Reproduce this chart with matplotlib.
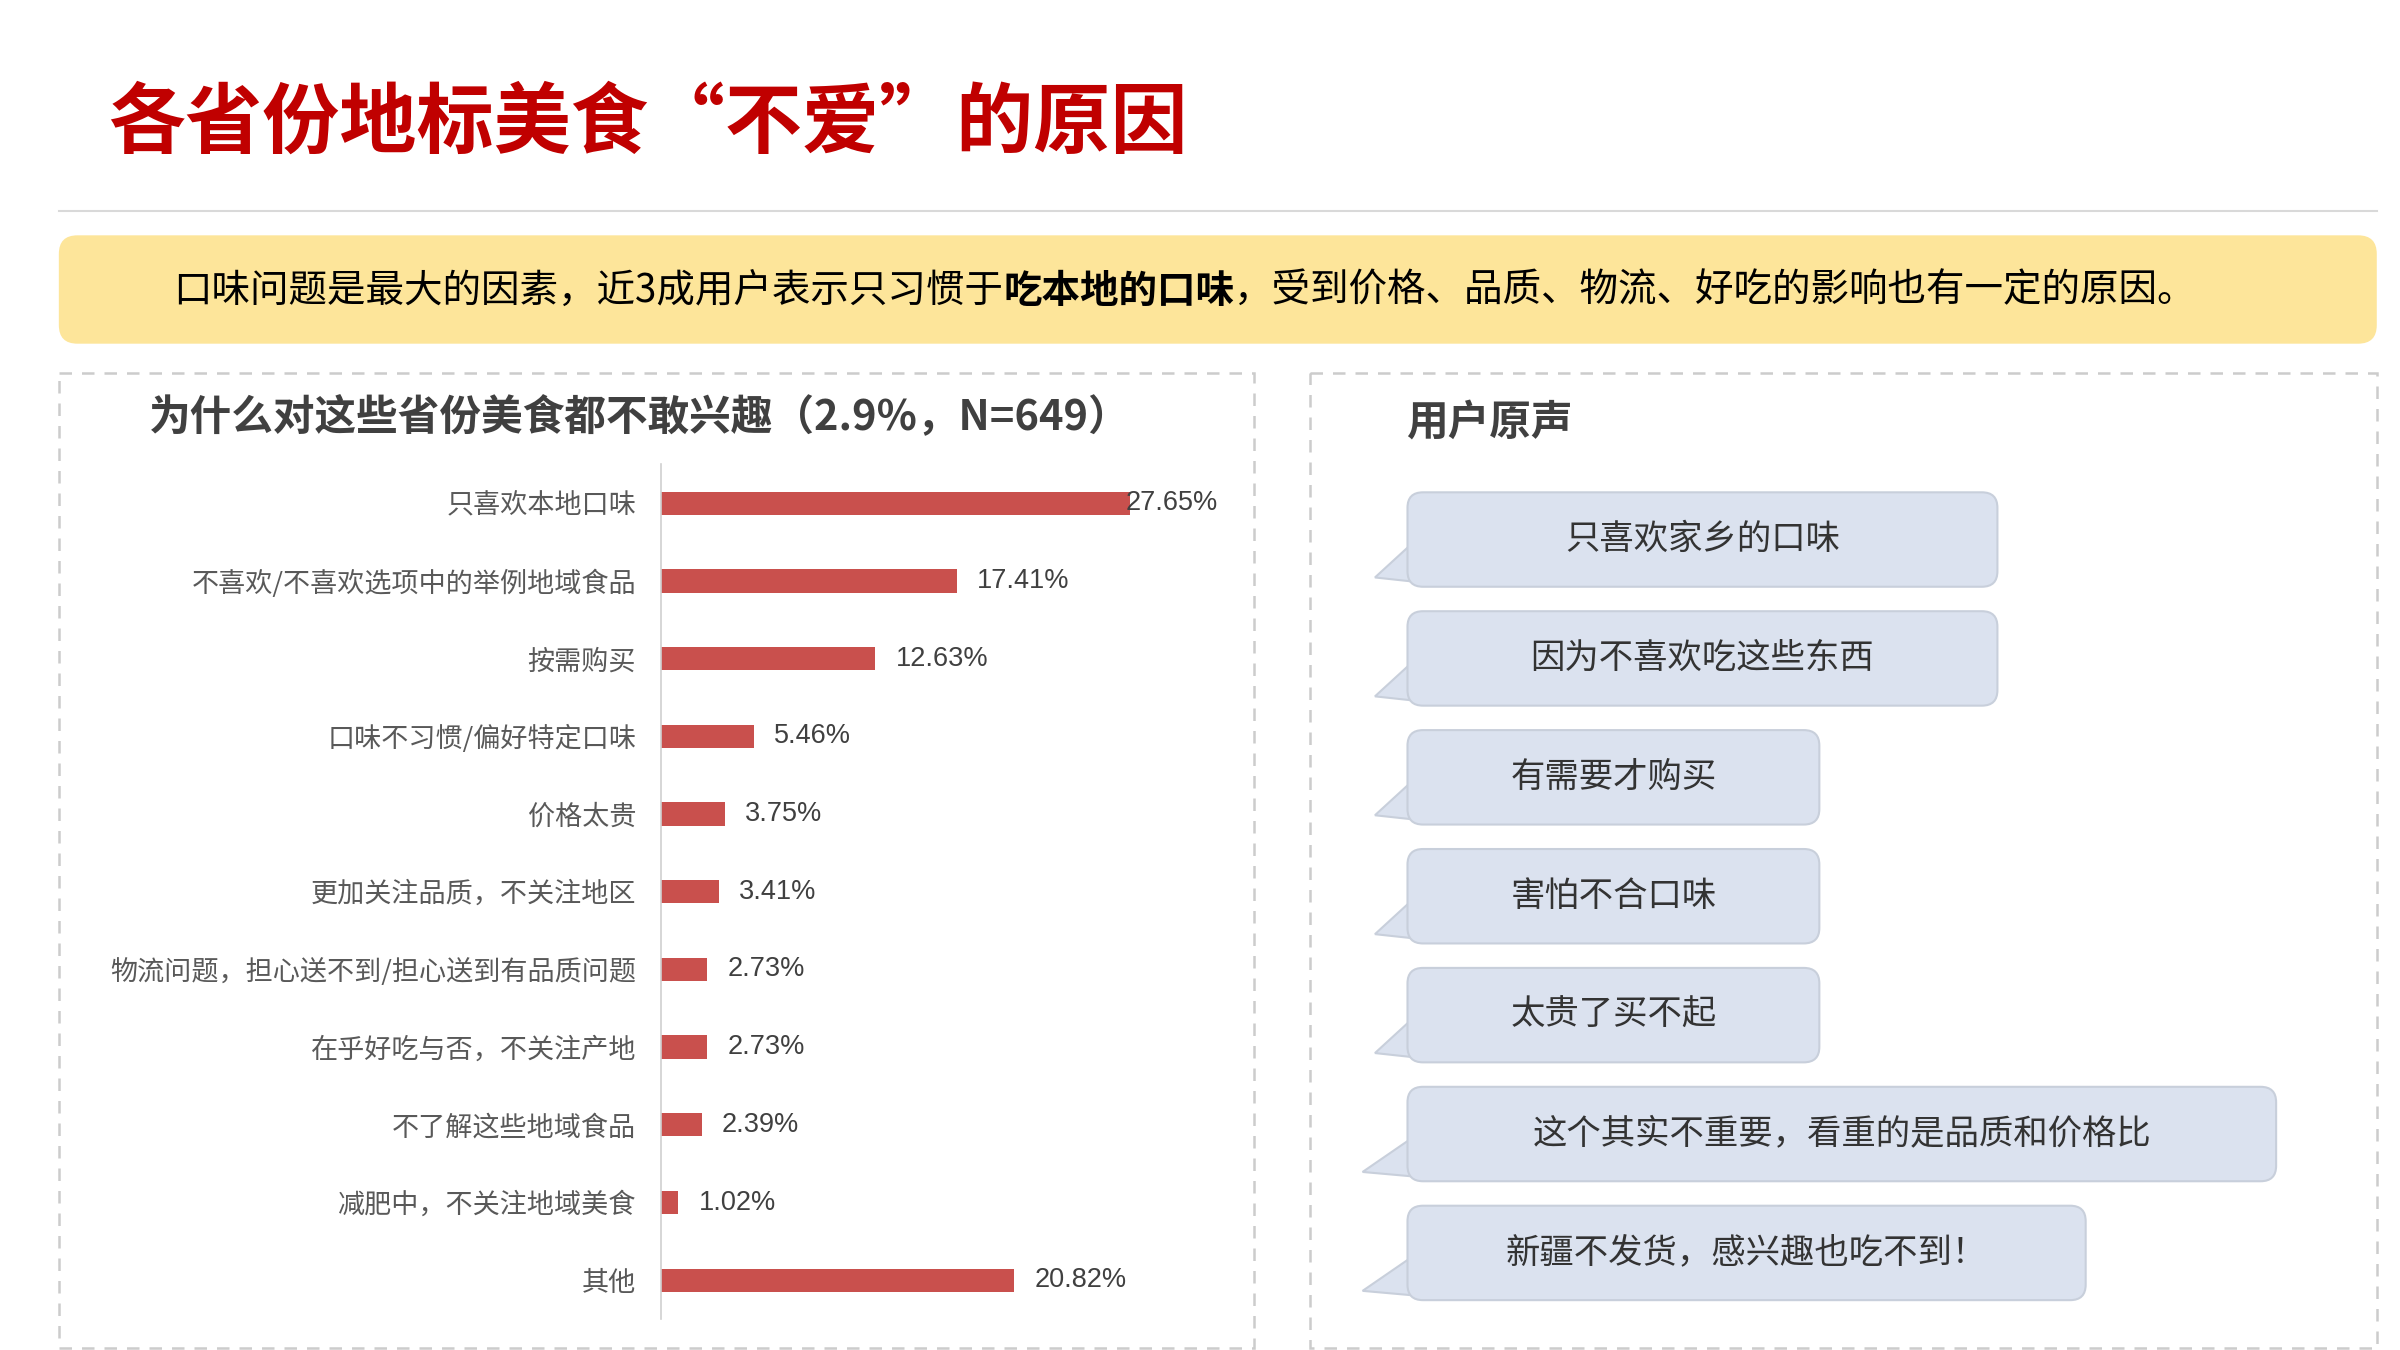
import matplotlib
matplotlib.use("Agg")
import matplotlib.pyplot as plt
from matplotlib.patches import FancyBboxPatch, Polygon, Rectangle

plt.rcParams['font.family'] = ['Noto Sans CJK SC', 'DejaVu Sans']

categories = ['只喜欢本地口味', '不喜欢/不喜欢选项中的举例地域食品', '按需购买', '口味不习惯/偏好特定口味',
              '价格太贵', '更加关注品质，不关注地区', '物流问题，担心送不到/担心送到有品质问题',
              '在乎好吃与否，不关注产地', '不了解这些地域食品', '减肥中，不关注地域美食', '其他']
values = [27.65, 17.41, 12.63, 5.46, 3.75, 3.41, 2.73, 2.73, 2.39, 1.02, 20.82]
quotes = ['只喜欢家乡的口味', '因为不喜欢吃这些东西', '有需要才购买', '害怕不合口味',
          '太贵了买不起', '这个其实不重要，看重的是品质和价格比', '新疆不发货，感兴趣也吃不到！']
quote_w = [381, 381, 266, 266, 266, 561, 438]

W, H = 1550, 872
fig = plt.figure(figsize=(16, 9), dpi=150)
bg = fig.add_axes([0, 0, 1, 1])
bg.set_xlim(0, W)
bg.set_ylim(H, 0)
bg.axis('off')

bg.text(70, 80, '各省份地标美食“不爱”的原因', color='#c00000', fontsize=37, fontweight='bold', va='center')
bg.plot([38, 1535], [136, 136], color='#d9d9d9', lw=1)
bg.add_patch(FancyBboxPatch((38, 152), 1497, 70, boxstyle='round,pad=0,rounding_size=12',
                            fc='#fde59a', ec='none'))

# mixed-weight sentence
parts = [('口味问题是最大的因素，近3成用户表示只习惯于', 'normal'), ('吃本地的口味', 'bold'),
         ('，受到价格、品质、物流、好吃的影响也有一定的原因。', 'normal')]
fig.canvas.draw()
r = fig.canvas.get_renderer()
x = 112
for s, wt in parts:
    t = bg.text(x, 188, s, fontsize=18.5, fontweight=wt, color='black', va='center')
    bb = t.get_window_extent(renderer=r)
    x += bb.width / fig.get_figwidth() / fig.dpi * W

for x0, x1 in [(38, 810), (846, 1535)]:
    bg.add_patch(Rectangle((x0, 241), x1 - x0, 630, fill=False, ec='#cccccc', lw=1.2, ls=(0, (5, 4))))

bg.text(96, 270, '为什么对这些省份美食都不敢兴趣（2.9%，N=649）', fontsize=20, fontweight='bold',
        color='#404040', va='center')
bg.text(908, 273, '用户原声', fontsize=20, fontweight='bold', color='#404040', va='center')

# bar chart
ax = fig.add_axes([427 / W, 1 - 852 / H, 380 / W, 552 / H])
ypos = list(range(len(values)))
ax.barh(ypos, values, height=0.3, color='#c9504d')
ax.set_xlim(0, 380 / 10.96)
ax.set_ylim(len(values) - 0.5, -0.5)
ax.set_yticks(ypos)
ax.set_yticklabels(categories, fontsize=13, color='#595959')
ax.tick_params(axis='y', length=0, pad=12)
ax.set_xticks([])
for s in ['top', 'right', 'bottom']:
    ax.spines[s].set_visible(False)
ax.spines['left'].set_color('#d0d0d0')
for i, v in enumerate(values):
    ax.text(v + (-0.3 if i == 0 else 1.2), i, f'{v:.2f}%', fontsize=13, color='#404040', va='center',
            family=['Liberation Sans', 'Noto Sans CJK SC'])
ax.patch.set_alpha(0)

# speech bubbles
for i, (q, w) in enumerate(zip(quotes, quote_w)):
    y0 = 318 + i * 76.8
    h = 61
    bg.add_patch(Polygon([(912, y0 + h - 28), (888 - (8 if w > 400 else 0), y0 + h - 6), (925, y0 + h - 2)],
                         closed=True, fc='#dbe2ef', ec='#c8cfdb', lw=1))
    bg.add_patch(FancyBboxPatch((909, y0), w, h, boxstyle='round,pad=0,rounding_size=10',
                                fc='#dbe2ef', ec='#c8cfdb', lw=1))
    bg.text(909 + w / 2, y0 + h / 2, q, fontsize=16.5, color='#333333', ha='center', va='center')

fig.savefig('out.png')
